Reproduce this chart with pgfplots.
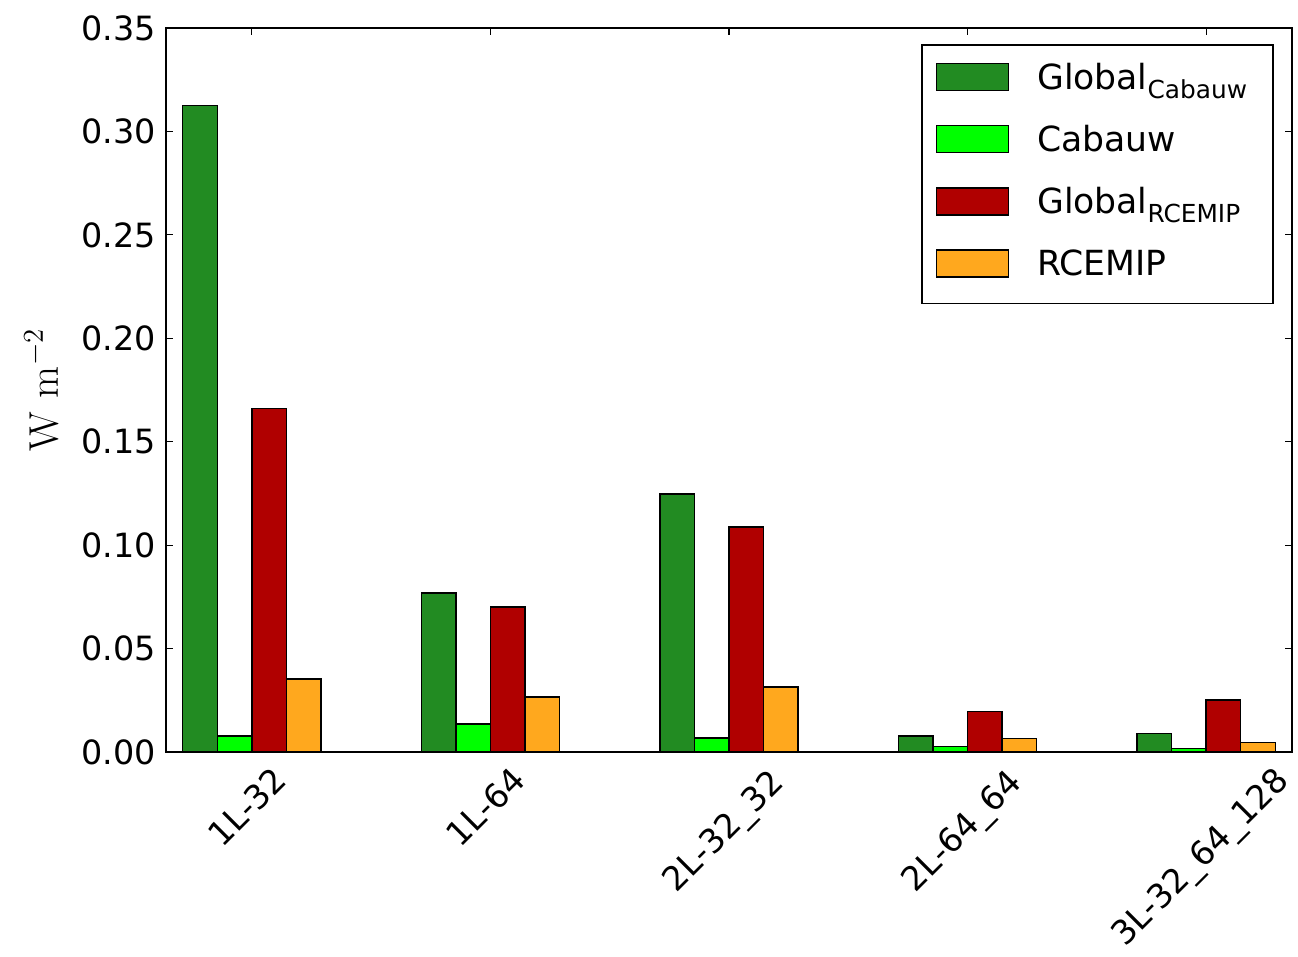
\documentclass[border=0pt]{standalone}
\usepackage[no-math]{fontspec}
\setmainfont{DejaVu Sans}
\usepackage{pgfplots}
\pgfplotsset{compat=1.18}
\usetikzlibrary{calc}
\definecolor{gcab}{RGB}{34,139,34}
\definecolor{cab}{RGB}{0,255,0}
\definecolor{grce}{RGB}{176,0,0}
\definecolor{rce}{RGB}{255,168,30}
\newcommand\tickfont{\fontsize{16.7}{20}\selectfont}
\newcommand\sub[1]{\raisebox{-4.5pt}{\fontsize{12.4}{13}\selectfont #1}}
\pgfplotsset{barleg/.style={legend image code/.code={\draw[##1,line width=0.7pt] (0pt,-4.5pt) rectangle (36pt,9pt);}}}
\begin{document}
\begin{tikzpicture}
\useasboundingbox (-83pt,-102.5pt) rectangle (566pt,376pt);
\begin{axis}[
  at={(0pt,0pt)}, anchor=south west,
  scale only axis, width=563pt, height=362pt,
  xmin=-0.36, xmax=4.36, ymin=0, ymax=0.35,
  ybar, bar width=0.145,
  clip=false,
  xtick={0,1,2,3,4}, xticklabels={},
  ytick={0,0.05,0.1,0.15,0.2,0.25,0.3,0.35},
  scaled y ticks=false,
  tick align=inside, major tick length=3.5pt,
  axis line style={line width=0.8pt, black},
  tick style={line width=0.6pt, black},
  /pgf/number format/assume math mode=true,
  yticklabel style={font=\tickfont, inner xsep=0pt, xshift=-5pt,
    /pgf/number format/.cd, fixed, fixed zerofill, precision=2},
  ylabel={$\mathrm{W\ m^{-2}}$},
  ylabel style={font=\fontsize{21}{24}\selectfont, at={(axis description cs:-0.111,0.5)}, anchor=center},
  legend cell align=left,
  legend style={at={(1,1)}, anchor=north east, xshift=-9pt, yshift=-8pt,
    draw=black, line width=0.8pt, font=\fontsize{17.3}{20}\selectfont,
    inner xsep=7pt, inner ysep=9pt, row sep=13pt, column sep=14pt,
    nodes={inner sep=0pt, text height=12.5pt, text depth=5pt, text width=111pt, align=left}},
]
\addplot[barleg, fill=gcab, draw=black, line width=0.7pt, bar shift=-0.2175] coordinates {(0,0.3125) (1,0.0768) (2,0.1247) (3,0.0077) (4,0.0088)};
\addplot[barleg, fill=cab, draw=black, line width=0.7pt, bar shift=-0.0725] coordinates {(0,0.0077) (1,0.0135) (2,0.0068) (3,0.0026) (4,0.0018)};
\addplot[barleg, fill=grce, draw=black, line width=0.7pt, bar shift=0.0725] coordinates {(0,0.1660) (1,0.0700) (2,0.1088) (3,0.0195) (4,0.0251)};
\addplot[barleg, fill=rce, draw=black, line width=0.7pt, bar shift=0.2175] coordinates {(0,0.0353) (1,0.0266) (2,0.0314) (3,0.0064) (4,0.0047)};
\legend{Global\sub{Cabauw}, Cabauw, Global\sub{RCEMIP}, RCEMIP}
\node[font=\tickfont, rotate=45, anchor=center] at ($(axis cs:0,0)+(-2.5pt,-27.5pt)$) {1L-32};
\node[font=\tickfont, rotate=45, anchor=center] at ($(axis cs:1,0)+(-2.5pt,-27.5pt)$) {1L-64};
\node[font=\tickfont, rotate=45, anchor=center] at ($(axis cs:2,0)+(-2pt,-40.5pt)$) {2L-32\_32};
\node[font=\tickfont, rotate=45, anchor=center] at ($(axis cs:3,0)+(-2pt,-40.5pt)$) {2L-64\_64};
\node[font=\tickfont, rotate=45, anchor=center] at ($(axis cs:4,0)+(-2.2pt,-53.5pt)$) {3L-32\_64\_128};
\end{axis}
\end{tikzpicture}
\end{document}
